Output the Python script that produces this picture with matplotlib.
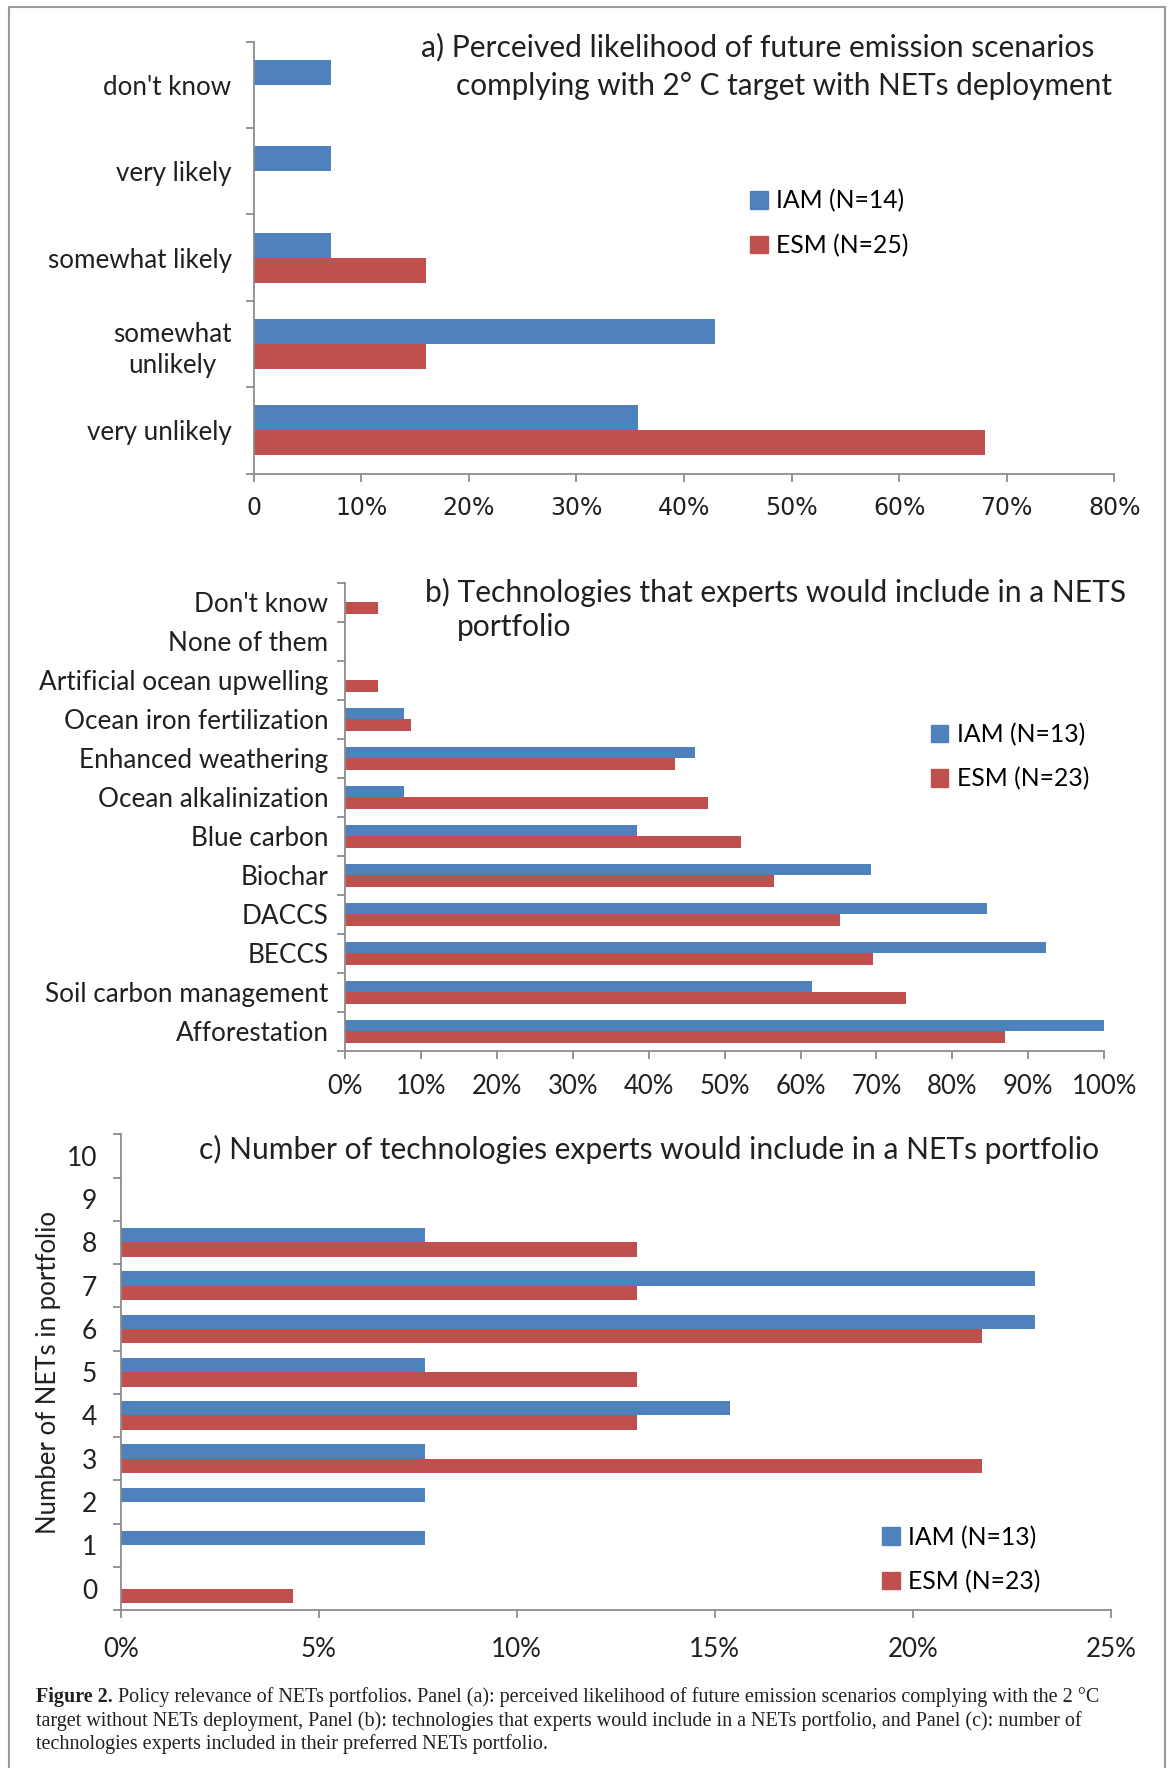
import matplotlib
matplotlib.use("Agg")
import matplotlib.pyplot as plt
import numpy as np
from matplotlib.patches import Rectangle

# ---- data ----
# panel a: likelihood categories (top to bottom)
a_labels = ["don't know", "very likely", "somewhat likely", "somewhat\nunlikely", "very unlikely"]
a_iam = [1/14, 1/14, 1/14, 6/14, 5/14]
a_esm = [0, 0, 4/25, 4/25, 17/25]
a_xticks = [0, 0.1, 0.2, 0.3, 0.4, 0.5, 0.6, 0.7, 0.8]
a_xticklabels = ["0", "10%", "20%", "30%", "40%", "50%", "60%", "70%", "80%"]

# panel b: technologies (top to bottom)
b_labels = ["Don't know", "None of them", "Artificial ocean upwelling", "Ocean iron fertilization",
            "Enhanced weathering", "Ocean alkalinization", "Blue carbon", "Biochar", "DACCS",
            "BECCS", "Soil carbon management", "Afforestation"]
b_iam = [0, 0, 0, 1/13, 6/13, 1/13, 5/13, 9/13, 11/13, 12/13, 8/13, 13/13]
b_esm = [1/23, 0, 1/23, 2/23, 10/23, 11/23, 12/23, 13/23, 15/23, 16/23, 17/23, 20/23]
b_xticks = [i / 10 for i in range(11)]
b_xticklabels = ["%d%%" % (i * 10) for i in range(11)]

# panel c: number of NETs in portfolio (bottom to top)
c_labels = [str(i) for i in range(11)]
c_iam = [0, 1/13, 1/13, 1/13, 2/13, 1/13, 3/13, 3/13, 1/13, 0, 0]
c_esm = [1/23, 0, 0, 5/23, 3/23, 3/23, 5/23, 3/23, 3/23, 0, 0]
c_xticks = [0, 0.05, 0.10, 0.15, 0.20, 0.25]
c_xticklabels = ["0%", "5%", "10%", "15%", "20%", "25%"]

BLUE = "#4F81BD"
RED = "#C0504D"
AXC = "#8c8c8c"
TXT = "#231f20"
SANS = "Lato"

W, H = 1040.0, 1568.0  # layout units (reference scaled)


def rect(l, t, r, b):
    return [l / W, 1 - b / H, (r - l) / W, (b - t) / H]


def fy(y):
    return 1 - y / H


def style_axes(ax):
    for s in ["top", "right"]:
        ax.spines[s].set_visible(False)
    for s in ["left", "bottom"]:
        ax.spines[s].set_color(AXC)
        ax.spines[s].set_linewidth(1.3)
    ax.tick_params(axis="both", which="major", color=AXC, width=1.3, length=6, direction="out")


def add_legend(iam_lab, esm_lab, x, y, fs):
    h = [Rectangle((0, 0), 1, 1, color=BLUE), Rectangle((0, 0), 1, 1, color=RED)]
    fig.legend(h, [iam_lab, esm_lab], loc="upper left", bbox_to_anchor=(x / W, fy(y)),
               frameon=False, handlelength=0.72, handleheight=0.72, handletextpad=0.35,
               labelspacing=0.85, borderpad=0, borderaxespad=0,
               prop={"family": SANS, "size": fs})


fig = plt.figure(figsize=(11.73, 17.68), dpi=100)

# outer frame
fig.patches.append(Rectangle((8 / W, -0.01), (1033 - 8) / W, fy(6) + 0.01, transform=fig.transFigure,
                             fill=False, edgecolor="#9a9a9a", linewidth=1.5))

# ---------- panel a ----------
ax = fig.add_axes(rect(225, 37, 988, 420))
n = len(a_labels)
pos = np.arange(n)
h = 0.29
ax.barh(pos - h / 2, a_iam, height=h, color=BLUE)
ax.barh(pos + h / 2, a_esm, height=h, color=RED)
ax.set_ylim(n - 0.5, -0.5)
ax.set_xlim(0, 0.8)
style_axes(ax)
ax.set_yticks(np.arange(n + 1) - 0.5)
ax.set_yticklabels([])
ax.set_yticks(pos, minor=True)
ax.set_yticklabels(a_labels, minor=True, family=SANS, fontsize=18.7, color=TXT,
                   multialignment="center", linespacing=1.3)
ax.tick_params(axis="y", which="minor", length=0, pad=16)
ax.set_xticks(a_xticks)
ax.set_xticklabels(a_xticklabels, family="DejaVu Sans", fontsize=17, color=TXT)
ax.tick_params(axis="x", pad=10)
fig.text(373 / W, fy(42), "a) Perceived likelihood of future emission scenarios", family=SANS,
         fontsize=21.6, color=TXT, va="center")
fig.text(404 / W, fy(76), "complying with 2° C target with NETs deployment", family=SANS,
         fontsize=21.4, color=TXT, va="center")
add_legend("IAM (N=14)", "ESM (N=25)", 665, 168, 17.8)

# ---------- panel b ----------
ax = fig.add_axes(rect(306, 517, 979, 932))
n = len(b_labels)
pos = np.arange(n)
h = 0.29
ax.barh(pos - h / 2, b_iam, height=h, color=BLUE)
ax.barh(pos + h / 2, b_esm, height=h, color=RED)
ax.set_ylim(n - 0.5, -0.5)
ax.set_xlim(0, 1.0)
style_axes(ax)
ax.set_yticks(np.arange(n + 1) - 0.5)
ax.set_yticklabels([])
ax.set_yticks(pos, minor=True)
ax.set_yticklabels(b_labels, minor=True, family=SANS, fontsize=18.8, color=TXT)
ax.tick_params(axis="y", which="minor", length=0, pad=12)
ax.set_xticks(b_xticks)
ax.set_xticklabels(b_xticklabels, family=SANS, fontsize=18.5, color=TXT)
ax.tick_params(axis="x", pad=11)
fig.text(377 / W, fy(525), "b) Technologies that experts would include in a NETS", family=SANS,
         fontsize=21.6, color=TXT, va="center")
fig.text(405 / W, fy(556), "portfolio", family=SANS, fontsize=21.6, color=TXT, va="center")
add_legend("IAM (N=13)", "ESM (N=23)", 825, 641, 17.8)

# ---------- panel c ----------
ax = fig.add_axes(rect(107, 1006, 985, 1428))
n = len(c_labels)
pos = np.arange(n)
h = 0.33
ax.barh(pos + h / 2, c_iam, height=h, color=BLUE)
ax.barh(pos - h / 2, c_esm, height=h, color=RED)
ax.set_ylim(-0.5, n - 0.5)
ax.set_xlim(0, 0.25)
style_axes(ax)
ax.set_yticks(np.arange(n + 1) - 0.5)
ax.set_yticklabels([])
ax.set_yticks(pos, minor=True)
ax.set_yticklabels(c_labels, minor=True, family=SANS, fontsize=19, color=TXT)
ax.tick_params(axis="y", which="minor", length=0, pad=17)
ax.set_xticks(c_xticks)
ax.set_xticklabels(c_xticklabels, family=SANS, fontsize=18.7, color=TXT)
ax.tick_params(axis="x", pad=13)
ax.set_ylabel("Number of NETs in portfolio", family=SANS, fontsize=18.5, color=TXT)
ax.yaxis.set_label_coords((54 - 107) / (985 - 107), 0.5)
fig.text(176 / W, fy(1019), "c) Number of technologies experts would include in a NETs portfolio",
         family=SANS, fontsize=21.6, color=TXT, va="center")
add_legend("IAM (N=13)", "ESM (N=23)", 782, 1353, 17.8)

# ---------- caption ----------
SERIF = "Liberation Serif"
CFS = 14.5
cap = [
    "Policy relevance of NETs portfolios. Panel (a): perceived likelihood of future emission scenarios complying with the 2 °C",
    "target without NETs deployment, Panel (b): technologies that experts would include in a NETs portfolio, and Panel (c): number of",
    "technologies experts included in their preferred NETs portfolio.",
]
t = fig.text(32 / W, fy(1505), "Figure 2.", family=SERIF, fontweight="bold", fontsize=CFS,
             color=TXT, va="center")
fig.canvas.draw()
bb = t.get_window_extent()
fig.text(bb.x1 / fig.bbox.width + 0.004, fy(1505), cap[0], family=SERIF, fontsize=CFS, color=TXT, va="center")
fig.text(32 / W, fy(1526), cap[1], family=SERIF, fontsize=CFS, color=TXT, va="center")
fig.text(32 / W, fy(1547), cap[2], family=SERIF, fontsize=CFS, color=TXT, va="center")

fig.savefig("out.png", dpi=100)
